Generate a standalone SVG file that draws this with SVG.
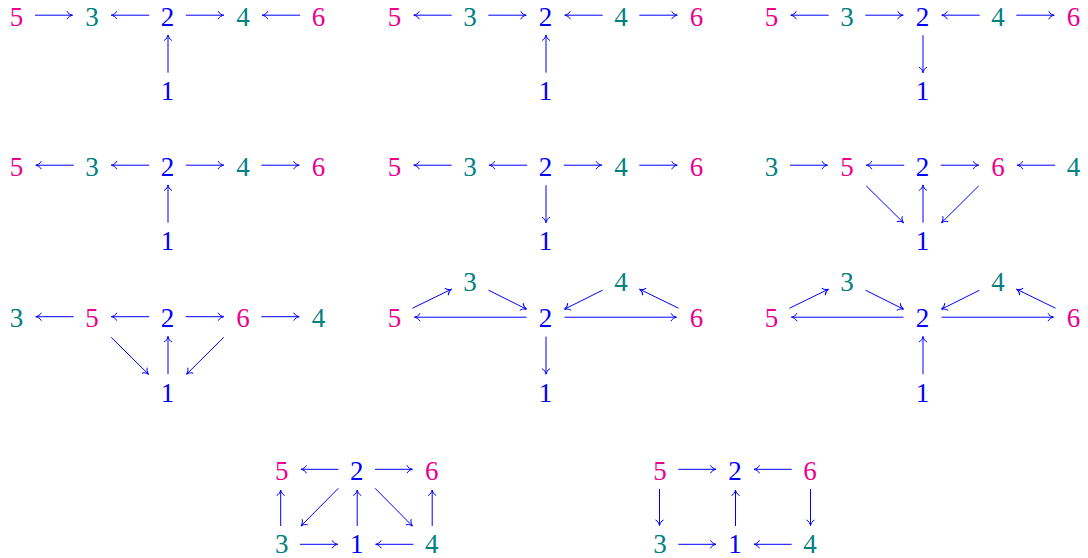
<svg xmlns="http://www.w3.org/2000/svg" width="1088" height="558" viewBox="0 0 1088 558">
<style>
.p{fill:#ec008c}.t{fill:#008080}.b{fill:#0000ff}
.a line{stroke:#0000ff;stroke-width:1;fill:none;marker-end:url(#h)}
</style>
<defs>
<marker id="h" markerUnits="userSpaceOnUse" orient="auto" markerWidth="12" markerHeight="12" refX="0" refY="0" viewBox="-7 -6 9 12" overflow="visible">
<path d="M-5.5,-4 C-4.6,-1.6 -1.6,-0.4 0,0 C-1.6,0.4 -4.6,1.6 -5.5,4" fill="none" stroke="#0000ff" stroke-width="1"/>
</marker>
</defs>
<g id="panel1" transform="translate(167.5,16.7)">
<g id="p1n5"><text class="p" font-family="Liberation Serif, serif" font-size="27" text-anchor="middle" x="-151" y="9.2">5</text></g>
<g id="p1n3"><text class="t" font-family="Liberation Serif, serif" font-size="27" text-anchor="middle" x="-75.5" y="9.2">3</text></g>
<g id="p1n2"><text class="b" font-family="Liberation Serif, serif" font-size="27" text-anchor="middle" x="0" y="9.2">2</text></g>
<g id="p1n4"><text class="t" font-family="Liberation Serif, serif" font-size="27" text-anchor="middle" x="75.5" y="9.2">4</text></g>
<g id="p1n6"><text class="p" font-family="Liberation Serif, serif" font-size="27" text-anchor="middle" x="151" y="9.2">6</text></g>
<g id="p1n1"><text class="b" font-family="Liberation Serif, serif" font-size="27" text-anchor="middle" x="0" y="83.7">1</text></g>
<g id="p1c" class="a">
<line x1="-132.5" y1="-1.5" x2="-95" y2="-1.5"/>
<line x1="-18.3" y1="-1.5" x2="-56.2" y2="-1.5"/>
<line x1="18.3" y1="-1.5" x2="56.2" y2="-1.5"/>
<line x1="132.7" y1="-1.5" x2="94.8" y2="-1.5"/>
<line x1="0.5" y1="56" x2="0.5" y2="18.3"/>
</g>
</g>
<g id="panel2" transform="translate(545.5,16.7)">
<g id="p2n5"><text class="p" font-family="Liberation Serif, serif" font-size="27" text-anchor="middle" x="-151" y="9.2">5</text></g>
<g id="p2n3"><text class="t" font-family="Liberation Serif, serif" font-size="27" text-anchor="middle" x="-75.5" y="9.2">3</text></g>
<g id="p2n2"><text class="b" font-family="Liberation Serif, serif" font-size="27" text-anchor="middle" x="0" y="9.2">2</text></g>
<g id="p2n4"><text class="t" font-family="Liberation Serif, serif" font-size="27" text-anchor="middle" x="75.5" y="9.2">4</text></g>
<g id="p2n6"><text class="p" font-family="Liberation Serif, serif" font-size="27" text-anchor="middle" x="151" y="9.2">6</text></g>
<g id="p2n1"><text class="b" font-family="Liberation Serif, serif" font-size="27" text-anchor="middle" x="0" y="83.7">1</text></g>
<g id="p2c" class="a">
<line x1="-93.8" y1="-1.5" x2="-131.7" y2="-1.5"/>
<line x1="-57.2" y1="-1.5" x2="-19.3" y2="-1.5"/>
<line x1="57.2" y1="-1.5" x2="19.3" y2="-1.5"/>
<line x1="93.8" y1="-1.5" x2="131.7" y2="-1.5"/>
<line x1="0.5" y1="56" x2="0.5" y2="18.3"/>
</g>
</g>
<g id="panel3" transform="translate(922.5,16.7)">
<g id="p3n5"><text class="p" font-family="Liberation Serif, serif" font-size="27" text-anchor="middle" x="-151" y="9.2">5</text></g>
<g id="p3n3"><text class="t" font-family="Liberation Serif, serif" font-size="27" text-anchor="middle" x="-75.5" y="9.2">3</text></g>
<g id="p3n2"><text class="b" font-family="Liberation Serif, serif" font-size="27" text-anchor="middle" x="0" y="9.2">2</text></g>
<g id="p3n4"><text class="t" font-family="Liberation Serif, serif" font-size="27" text-anchor="middle" x="75.5" y="9.2">4</text></g>
<g id="p3n6"><text class="p" font-family="Liberation Serif, serif" font-size="27" text-anchor="middle" x="151" y="9.2">6</text></g>
<g id="p3n1"><text class="b" font-family="Liberation Serif, serif" font-size="27" text-anchor="middle" x="0" y="83.7">1</text></g>
<g id="p3c" class="a">
<line x1="-93.8" y1="-1.5" x2="-131.7" y2="-1.5"/>
<line x1="-57.2" y1="-1.5" x2="-19.3" y2="-1.5"/>
<line x1="57.2" y1="-1.5" x2="19.3" y2="-1.5"/>
<line x1="93.8" y1="-1.5" x2="131.7" y2="-1.5"/>
<line x1="0.5" y1="18.5" x2="0.5" y2="56"/>
</g>
</g>
<g id="panel4" transform="translate(167.5,166.7)">
<g id="p4n5"><text class="p" font-family="Liberation Serif, serif" font-size="27" text-anchor="middle" x="-151" y="9.2">5</text></g>
<g id="p4n3"><text class="t" font-family="Liberation Serif, serif" font-size="27" text-anchor="middle" x="-75.5" y="9.2">3</text></g>
<g id="p4n2"><text class="b" font-family="Liberation Serif, serif" font-size="27" text-anchor="middle" x="0" y="9.2">2</text></g>
<g id="p4n4"><text class="t" font-family="Liberation Serif, serif" font-size="27" text-anchor="middle" x="75.5" y="9.2">4</text></g>
<g id="p4n6"><text class="p" font-family="Liberation Serif, serif" font-size="27" text-anchor="middle" x="151" y="9.2">6</text></g>
<g id="p4n1"><text class="b" font-family="Liberation Serif, serif" font-size="27" text-anchor="middle" x="0" y="83.7">1</text></g>
<g id="p4c" class="a">
<line x1="-93.8" y1="-1.5" x2="-131.7" y2="-1.5"/>
<line x1="-18.3" y1="-1.5" x2="-56.2" y2="-1.5"/>
<line x1="18.3" y1="-1.5" x2="56.2" y2="-1.5"/>
<line x1="93.8" y1="-1.5" x2="131.7" y2="-1.5"/>
<line x1="0.5" y1="56" x2="0.5" y2="18.3"/>
</g>
</g>
<g id="panel5" transform="translate(545.5,166.7)">
<g id="p5n5"><text class="p" font-family="Liberation Serif, serif" font-size="27" text-anchor="middle" x="-151" y="9.2">5</text></g>
<g id="p5n3"><text class="t" font-family="Liberation Serif, serif" font-size="27" text-anchor="middle" x="-75.5" y="9.2">3</text></g>
<g id="p5n2"><text class="b" font-family="Liberation Serif, serif" font-size="27" text-anchor="middle" x="0" y="9.2">2</text></g>
<g id="p5n4"><text class="t" font-family="Liberation Serif, serif" font-size="27" text-anchor="middle" x="75.5" y="9.2">4</text></g>
<g id="p5n6"><text class="p" font-family="Liberation Serif, serif" font-size="27" text-anchor="middle" x="151" y="9.2">6</text></g>
<g id="p5n1"><text class="b" font-family="Liberation Serif, serif" font-size="27" text-anchor="middle" x="0" y="83.7">1</text></g>
<g id="p5c" class="a">
<line x1="-93.8" y1="-1.5" x2="-131.7" y2="-1.5"/>
<line x1="-18.3" y1="-1.5" x2="-56.2" y2="-1.5"/>
<line x1="18.3" y1="-1.5" x2="56.2" y2="-1.5"/>
<line x1="93.8" y1="-1.5" x2="131.7" y2="-1.5"/>
<line x1="0.5" y1="18.5" x2="0.5" y2="56"/>
</g>
</g>
<g id="panel6" transform="translate(922.5,166.7)">
<g id="p6n3"><text class="t" font-family="Liberation Serif, serif" font-size="27" text-anchor="middle" x="-151" y="9.2">3</text></g>
<g id="p6n5"><text class="p" font-family="Liberation Serif, serif" font-size="27" text-anchor="middle" x="-75.5" y="9.2">5</text></g>
<g id="p6n2"><text class="b" font-family="Liberation Serif, serif" font-size="27" text-anchor="middle" x="0" y="9.2">2</text></g>
<g id="p6n6"><text class="p" font-family="Liberation Serif, serif" font-size="27" text-anchor="middle" x="75.5" y="9.2">6</text></g>
<g id="p6n4"><text class="t" font-family="Liberation Serif, serif" font-size="27" text-anchor="middle" x="151" y="9.2">4</text></g>
<g id="p6n1"><text class="b" font-family="Liberation Serif, serif" font-size="27" text-anchor="middle" x="0" y="83.7">1</text></g>
<g id="p6c" class="a">
<line x1="-132.5" y1="-1.5" x2="-95" y2="-1.5"/>
<line x1="-18.3" y1="-1.5" x2="-56.2" y2="-1.5"/>
<line x1="18.3" y1="-1.5" x2="56.2" y2="-1.5"/>
<line x1="132.7" y1="-1.5" x2="94.8" y2="-1.5"/>
<line x1="-56.3" y1="19.1" x2="-19" y2="56.1"/>
<line x1="56.3" y1="19.1" x2="19" y2="56.1"/>
<line x1="0.5" y1="56" x2="0.5" y2="18.3"/>
</g>
</g>
<g id="panel7" transform="translate(167.5,318.2)">
<g id="p7n3"><text class="t" font-family="Liberation Serif, serif" font-size="27" text-anchor="middle" x="-151" y="9.2">3</text></g>
<g id="p7n5"><text class="p" font-family="Liberation Serif, serif" font-size="27" text-anchor="middle" x="-75.5" y="9.2">5</text></g>
<g id="p7n2"><text class="b" font-family="Liberation Serif, serif" font-size="27" text-anchor="middle" x="0" y="9.2">2</text></g>
<g id="p7n6"><text class="p" font-family="Liberation Serif, serif" font-size="27" text-anchor="middle" x="75.5" y="9.2">6</text></g>
<g id="p7n4"><text class="t" font-family="Liberation Serif, serif" font-size="27" text-anchor="middle" x="151" y="9.2">4</text></g>
<g id="p7n1"><text class="b" font-family="Liberation Serif, serif" font-size="27" text-anchor="middle" x="0" y="83.7">1</text></g>
<g id="p7c" class="a">
<line x1="-93.8" y1="-1.5" x2="-131.7" y2="-1.5"/>
<line x1="-18.3" y1="-1.5" x2="-56.2" y2="-1.5"/>
<line x1="18.3" y1="-1.5" x2="56.2" y2="-1.5"/>
<line x1="93.8" y1="-1.5" x2="131.7" y2="-1.5"/>
<line x1="-56.3" y1="19.1" x2="-19" y2="56.1"/>
<line x1="56.3" y1="19.1" x2="19" y2="56.1"/>
<line x1="0.5" y1="56" x2="0.5" y2="18.3"/>
</g>
</g>
<g id="panel8" transform="translate(545.5,318.2)">
<g id="p8n5"><text class="p" font-family="Liberation Serif, serif" font-size="27" text-anchor="middle" x="-151" y="9.2">5</text></g>
<g id="p8n3"><text class="t" font-family="Liberation Serif, serif" font-size="27" text-anchor="middle" x="-75.5" y="-26.8">3</text></g>
<g id="p8n2"><text class="b" font-family="Liberation Serif, serif" font-size="27" text-anchor="middle" x="0" y="9.2">2</text></g>
<g id="p8n4"><text class="t" font-family="Liberation Serif, serif" font-size="27" text-anchor="middle" x="75.5" y="-26.8">4</text></g>
<g id="p8n6"><text class="p" font-family="Liberation Serif, serif" font-size="27" text-anchor="middle" x="151" y="9.2">6</text></g>
<g id="p8n1"><text class="b" font-family="Liberation Serif, serif" font-size="27" text-anchor="middle" x="0" y="83.7">1</text></g>
<g id="p8c" class="a">
<line x1="-133" y1="-10" x2="-94" y2="-29"/>
<line x1="-57" y1="-28" x2="-19" y2="-9"/>
<line x1="-19" y1="-1" x2="-131" y2="-1"/>
<line x1="57" y1="-28" x2="19" y2="-9"/>
<line x1="133" y1="-10" x2="94" y2="-29"/>
<line x1="19" y1="-1" x2="131" y2="-1"/>
<line x1="0.5" y1="18.5" x2="0.5" y2="56"/>
</g>
</g>
<g id="panel9" transform="translate(922.5,318.2)">
<g id="p9n5"><text class="p" font-family="Liberation Serif, serif" font-size="27" text-anchor="middle" x="-151" y="9.2">5</text></g>
<g id="p9n3"><text class="t" font-family="Liberation Serif, serif" font-size="27" text-anchor="middle" x="-75.5" y="-26.8">3</text></g>
<g id="p9n2"><text class="b" font-family="Liberation Serif, serif" font-size="27" text-anchor="middle" x="0" y="9.2">2</text></g>
<g id="p9n4"><text class="t" font-family="Liberation Serif, serif" font-size="27" text-anchor="middle" x="75.5" y="-26.8">4</text></g>
<g id="p9n6"><text class="p" font-family="Liberation Serif, serif" font-size="27" text-anchor="middle" x="151" y="9.2">6</text></g>
<g id="p9n1"><text class="b" font-family="Liberation Serif, serif" font-size="27" text-anchor="middle" x="0" y="83.7">1</text></g>
<g id="p9c" class="a">
<line x1="-133" y1="-10" x2="-94" y2="-29"/>
<line x1="-57" y1="-28" x2="-19" y2="-9"/>
<line x1="-19" y1="-1" x2="-131" y2="-1"/>
<line x1="57" y1="-28" x2="19" y2="-9"/>
<line x1="133" y1="-10" x2="94" y2="-29"/>
<line x1="19" y1="-1" x2="131" y2="-1"/>
<line x1="0.5" y1="56" x2="0.5" y2="18.3"/>
</g>
</g>
<g id="panel10" transform="translate(356.7,470.5)">
<g id="p10n5"><text class="p" font-family="Liberation Serif, serif" font-size="27" text-anchor="middle" x="-75" y="9.2">5</text></g>
<g id="p10n2"><text class="b" font-family="Liberation Serif, serif" font-size="27" text-anchor="middle" x="0" y="9.2">2</text></g>
<g id="p10n6"><text class="p" font-family="Liberation Serif, serif" font-size="27" text-anchor="middle" x="75" y="9.2">6</text></g>
<g id="p10n3"><text class="t" font-family="Liberation Serif, serif" font-size="27" text-anchor="middle" x="-75" y="82.2">3</text></g>
<g id="p10n1"><text class="b" font-family="Liberation Serif, serif" font-size="27" text-anchor="middle" x="0" y="82.2">1</text></g>
<g id="p10n4"><text class="t" font-family="Liberation Serif, serif" font-size="27" text-anchor="middle" x="75" y="82.2">4</text></g>
<g id="p10c" class="a">
<line x1="-18.3" y1="-1.2" x2="-55.7" y2="-1.2"/>
<line x1="18.3" y1="-1.2" x2="55.7" y2="-1.2"/>
<line x1="-76" y1="55.5" x2="-76" y2="19.5"/>
<line x1="-18.4" y1="17.8" x2="-55.7" y2="55.5"/>
<line x1="0.5" y1="55.5" x2="0.5" y2="19.5"/>
<line x1="18.4" y1="17.8" x2="55.7" y2="55.5"/>
<line x1="75.5" y1="55.5" x2="75.5" y2="19.5"/>
<line x1="-56.7" y1="73.8" x2="-19" y2="73.8"/>
<line x1="56.7" y1="73.8" x2="19" y2="73.8"/>
</g>
</g>
<g id="panel11" transform="translate(735,470.5)">
<g id="p11n5"><text class="p" font-family="Liberation Serif, serif" font-size="27" text-anchor="middle" x="-75" y="9.2">5</text></g>
<g id="p11n2"><text class="b" font-family="Liberation Serif, serif" font-size="27" text-anchor="middle" x="0" y="9.2">2</text></g>
<g id="p11n6"><text class="p" font-family="Liberation Serif, serif" font-size="27" text-anchor="middle" x="75" y="9.2">6</text></g>
<g id="p11n3"><text class="t" font-family="Liberation Serif, serif" font-size="27" text-anchor="middle" x="-75" y="82.2">3</text></g>
<g id="p11n1"><text class="b" font-family="Liberation Serif, serif" font-size="27" text-anchor="middle" x="0" y="82.2">1</text></g>
<g id="p11n4"><text class="t" font-family="Liberation Serif, serif" font-size="27" text-anchor="middle" x="75" y="82.2">4</text></g>
<g id="p11c" class="a">
<line x1="-56.7" y1="-1.2" x2="-19" y2="-1.2"/>
<line x1="56.7" y1="-1.2" x2="19" y2="-1.2"/>
<line x1="-75.5" y1="18.5" x2="-75.5" y2="55"/>
<line x1="0.5" y1="55.5" x2="0.5" y2="19.5"/>
<line x1="75.5" y1="18.5" x2="75.5" y2="55"/>
<line x1="-56.7" y1="73.8" x2="-19" y2="73.8"/>
<line x1="56.7" y1="73.8" x2="19" y2="73.8"/>
</g>
</g>
</svg>
